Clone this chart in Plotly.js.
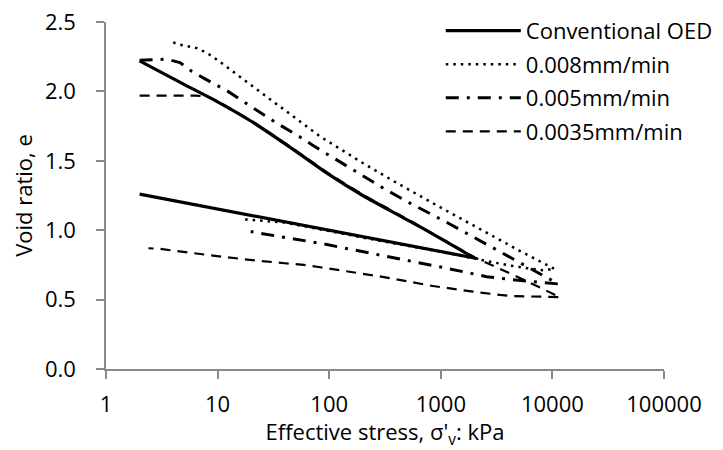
<!DOCTYPE html>
<html>
<head>
<meta charset="utf-8">
<script src="https://cdn.plot.ly/plotly-3.0.1.min.js"></script>
<style>html,body{margin:0;padding:0;background:#fff;}#chart{width:723px;height:450px;}</style>
</head>
<body>
<div id="chart"></div>
<script>
// Conventional OED
const convLoadStress = [2, 5, 10, 20, 50, 100, 200, 500, 1000, 2000];
const convLoadE      = [2.22, 2.05, 1.925, 1.785, 1.57, 1.40, 1.25, 1.075, 0.94, 0.80];
const convUnloadStress = [2000, 200, 20, 2];
const convUnloadE      = [0.80, 0.953, 1.107, 1.26];

// 0.008 mm/min
const r008LoadStress = [4, 4.6, 5.5, 6.5, 7.5, 8.5, 10, 20, 40, 83, 200, 375, 1000, 2000, 5000, 10500];
const r008LoadE      = [2.353, 2.336, 2.324, 2.312, 2.288, 2.264, 2.225, 2.044, 1.864, 1.675, 1.484, 1.355, 1.163, 1.03, 0.855, 0.72];
const r008UnloadStress = [10500, 8000, 6000, 4000, 2500, 1000, 300, 100, 40, 16.4];
const r008UnloadE      = [0.72, 0.712, 0.726, 0.748, 0.78, 0.845, 0.92, 0.995, 1.055, 1.08];

// 0.005 mm/min
const r005LoadStress = [2, 3.5, 4.6, 5.9, 7.5, 12.4, 20.7, 34, 57, 70, 323, 530, 1170, 2490, 5480, 11300];
const r005LoadE      = [2.225, 2.232, 2.208, 2.143, 2.096, 2.0, 1.882, 1.771, 1.663, 1.615, 1.291, 1.195, 1.05, 0.906, 0.75, 0.613];
const r005UnloadStress = [11300, 6000, 4800, 2580, 1130, 480, 200, 83, 36, 19.8];
const r005UnloadE      = [0.613, 0.632, 0.642, 0.665, 0.726, 0.786, 0.846, 0.906, 0.954, 0.99];

// 0.0035 mm/min
const r0035LoadStress = [2, 6.3, 8, 10, 20, 50, 100, 200, 500, 1000, 2000, 5000, 11700];
const r0035LoadE      = [1.97, 1.97, 1.963, 1.93, 1.79, 1.575, 1.405, 1.255, 1.08, 0.945, 0.805, 0.66, 0.517];
const r0035UnloadStress = [11700, 9000, 6000, 4500, 3400, 1950, 850, 300, 83, 59, 40, 19.5, 9.1, 4.3, 3, 2.4];
const r0035UnloadE      = [0.517, 0.52, 0.52, 0.525, 0.534, 0.557, 0.598, 0.664, 0.733, 0.75, 0.762, 0.786, 0.817, 0.851, 0.866, 0.87];

const seriesNames = ['Conventional OED', '0.008mm/min', '0.005mm/min', '0.0035mm/min'];
const xTickVals = [1, 10, 100, 1000, 10000, 100000];
const xTickText = ['1', '10', '100', '1000', '10000', '100000'];
const yTickVals = [0, 0.5, 1.0, 1.5, 2.0, 2.5];
const yTickText = ['0.0', '0.5', '1.0', '1.5', '2.0', '2.5'];

const FONT = 'Open Sans, Lato, sans-serif';
const FS = 22;
const black = '#000000';

function tr(name, xs, ys, dash, width, opts) {
  return Object.assign({
    type: 'scatter', mode: 'lines', name: name,
    x: xs, y: ys,
    line: {color: black, width: width, dash: dash},
    legendgroup: name
  }, opts || {});
}

const data = [
  tr(seriesNames[0], convLoadStress, convLoadE, 'solid', 3.2,
     {line: {color: black, width: 3.2, dash: 'solid', shape: 'spline', smoothing: 0.8}}),
  tr(seriesNames[1], r008LoadStress.concat(r008UnloadStress.slice(1)), r008LoadE.concat(r008UnloadE.slice(1)), '2.5px,5px', 2.5),
  tr(seriesNames[2], r005LoadStress.concat(r005UnloadStress.slice(1)), r005LoadE.concat(r005UnloadE.slice(1)), '13px,8px,3px,8px', 3),
  tr(seriesNames[3], r0035LoadStress.concat(r0035UnloadStress.slice(1)), r0035LoadE.concat(r0035UnloadE.slice(1)), '10px,7px', 2.2),
  tr(seriesNames[0], convUnloadStress, convUnloadE, 'solid', 3.2, {showlegend: false})
];

const axisColor = '#8a8a8a';
const layout = {
  width: 723, height: 450,
  margin: {l: 106, r: 59, t: 22, b: 81, pad: 0, autoexpand: false},
  paper_bgcolor: '#ffffff', plot_bgcolor: '#ffffff',
  font: {family: FONT, size: FS, color: '#000000'},
  showlegend: true,
  legend: {
    x: 0.6, y: 1.035, xanchor: 'left', yanchor: 'top',
    bgcolor: 'rgba(0,0,0,0)', borderwidth: 0,
    font: {family: FONT, size: FS, color: '#000000'},
    itemwidth: 75, tracegroupgap: 2,
    traceorder: 'grouped'
  },
  xaxis: {
    type: 'log', range: [0, 5],
    tickmode: 'array', tickvals: xTickVals, ticktext: xTickText,
    ticks: 'outside', ticklen: 8, tickwidth: 1.5, tickcolor: axisColor,
    showline: true, linecolor: axisColor, linewidth: 1.5,
    showgrid: false, zeroline: false,
    ticklabelstandoff: 7,
    tickfont: {family: FONT, size: FS, color: '#000000'},
    title: {text: "Effective stress, σ'<sub>v</sub>: kPa", font: {family: FONT, size: FS, color: '#000000'}, standoff: 4}
  },
  yaxis: {
    range: [0, 2.5],
    tickmode: 'array', tickvals: yTickVals, ticktext: yTickText,
    ticks: 'outside', ticklen: 8, tickwidth: 1.5, tickcolor: axisColor,
    showline: true, linecolor: axisColor, linewidth: 1.5,
    showgrid: false, zeroline: false,
    ticklabelstandoff: 16,
    tickfont: {family: FONT, size: FS, color: '#000000'},
    title: {text: 'Void ratio, e', font: {family: FONT, size: FS, color: '#000000'}, standoff: 6}
  }
};

Plotly.newPlot('chart', data, layout, {displayModeBar: false, responsive: false});
</script>
</body>
</html>
